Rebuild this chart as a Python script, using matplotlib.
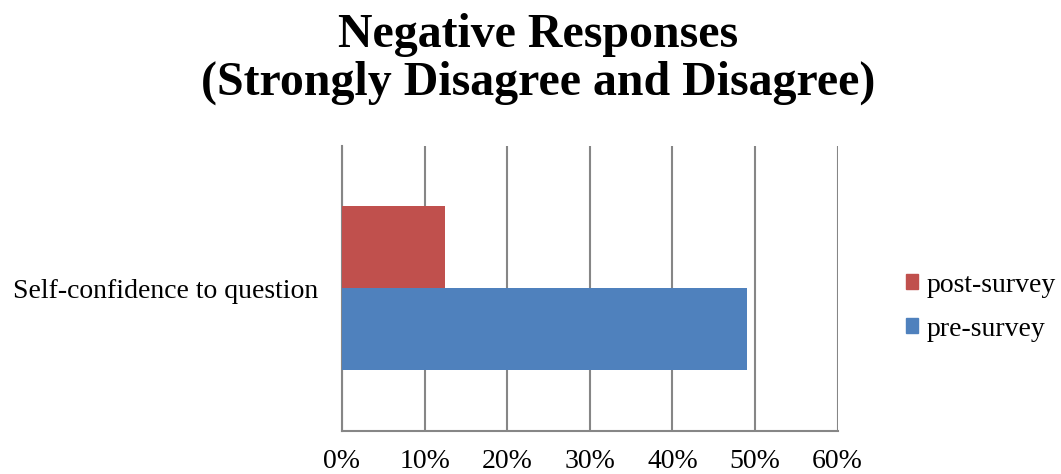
import matplotlib.pyplot as plt
from matplotlib.ticker import PercentFormatter
from matplotlib.patches import Patch

# Data
categories = ["Self-confidence to question"]
pre_survey = [49]
post_survey = [12.5]
series_names = ["pre-survey", "post-survey"]
ticks = [0, 10, 20, 30, 40, 50, 60]

plt.rcParams['font.family'] = ['Liberation Serif', 'DejaVu Serif']

fig = plt.figure(figsize=(10.61, 4.74), dpi=100)
ax = fig.add_axes([0.3223, 0.0913, 0.4672, 0.6007])

bar_h = 0.2875
y = range(len(categories))
ax.barh([i - bar_h / 2 for i in y], pre_survey, bar_h, color='#4F81BD', zorder=3)
ax.barh([i + bar_h / 2 for i in y], post_survey, bar_h, color='#C0504D', zorder=3)

ax.set_xlim(0, 60)
ax.set_ylim(-0.5, 0.5)
ax.set_xticks(ticks)
ax.xaxis.set_major_formatter(PercentFormatter(decimals=0))
ax.set_yticks(list(y))
ax.set_yticklabels(categories)
ax.tick_params(axis='both', length=0, labelsize=20, colors='black')
ax.tick_params(axis='y', pad=17)
ax.tick_params(axis='x', pad=13.5)
ax.grid(axis='x', color='#868686', linewidth=1.5, zorder=0)

for side in ['top', 'right']:
    ax.spines[side].set_visible(False)
for side in ['left', 'bottom']:
    ax.spines[side].set_color('#868686')
    ax.spines[side].set_linewidth(1.5)

fig.suptitle("Negative Responses\n(Strongly Disagree and Disagree)",
             fontsize=34.5, fontweight='bold', y=0.972, x=0.507, linespacing=1.09)

handles = [Patch(color='#C0504D'), Patch(color='#4F81BD')]
fig.legend(handles, ["post-survey", "pre-survey"], loc='center left',
           bbox_to_anchor=(0.8303, 0.352), frameon=False, fontsize=20,
           handlelength=0.45, handleheight=0.45, handletextpad=0.3, labelspacing=0.68)

fig.savefig("out.png", dpi=100)
